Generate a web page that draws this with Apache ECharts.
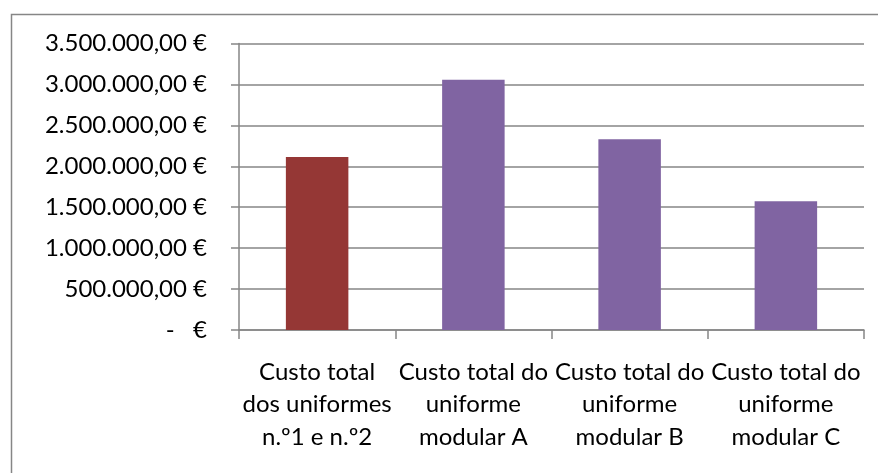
<!DOCTYPE html>
<html>
<head>
<meta charset="utf-8">
<script src="https://cdn.jsdelivr.net/npm/echarts@6/dist/echarts.min.js"></script>
<style>
html,body{margin:0;padding:0;background:#fff;}
#c{width:878px;height:473px;}
</style>
</head>
<body>
<div id="c"></div>
<script>
var categories = [
  "Custo total\ndos uniformes\nn.º1 e n.º2",
  "Custo total do\nuniforme\nmodular A",
  "Custo total do\nuniforme\nmodular B",
  "Custo total do\nuniforme\nmodular C"
];
var values = [2112000, 3058000, 2330000, 1572000];
var barColors = ["#953735", "#8064A2", "#8064A2", "#8064A2"];
var yMin = 0, yMax = 3500000, yStep = 500000;

var FONT = "Lato, 'Noto Sans', sans-serif";

function fmtEuro(v) {
  if (v === 0) return "-   €";
  var s = String(Math.round(v));
  s = s.replace(/\B(?=(\d{3})+(?!\d))/g, ".");
  return s + ",00 €";
}

var chart = echarts.init(document.getElementById('c'), null, {renderer: 'canvas'});
chart.setOption({
  animation: false,
  backgroundColor: '#ffffff',
  graphic: [{
    type: 'rect',
    shape: {x: 11.5, y: 14.5, width: 900, height: 500},
    style: {fill: 'none', stroke: '#868686', lineWidth: 1.5},
    silent: true
  }],
  grid: {left: 239, right: 14, top: 43.5, bottom: 143, containLabel: false},
  xAxis: {
    type: 'category',
    data: categories,
    axisLine: {show: true, lineStyle: {color: '#868686', width: 1.5}},
    axisTick: {show: true, length: 9, alignWithLabel: false, lineStyle: {color: '#868686', width: 1.5}},
    axisLabel: {
      interval: 0,
      margin: 26,
      color: '#000',
      fontFamily: FONT,
      fontSize: 24,
      lineHeight: 32.5
    }
  },
  yAxis: {
    type: 'value',
    min: yMin, max: yMax, interval: yStep,
    axisLine: {show: true, lineStyle: {color: '#868686', width: 1.5}},
    axisTick: {show: true, length: 8, inside: false, lineStyle: {color: '#868686', width: 1.5}},
    splitLine: {show: true, lineStyle: {color: '#868686', width: 1.5}},
    axisLabel: {
      margin: 32,
      color: '#000',
      fontFamily: FONT,
      fontSize: 24,
      formatter: fmtEuro
    }
  },
  series: [{
    type: 'bar',
    barWidth: '40%',
    data: values.map(function (v, i) {
      return {value: v, itemStyle: {color: barColors[i]}};
    })
  }]
});
</script>
</body>
</html>
